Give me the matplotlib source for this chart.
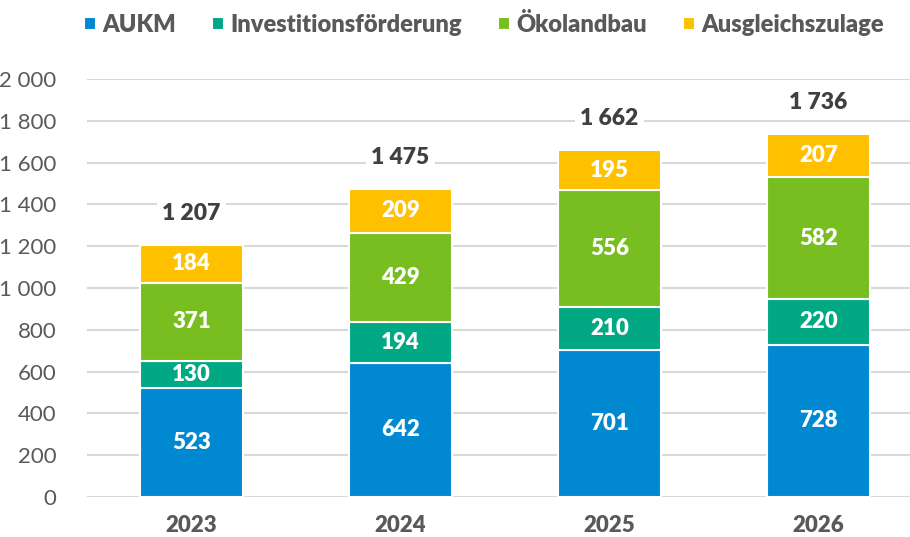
import matplotlib.pyplot as plt
from matplotlib.ticker import FuncFormatter
import numpy as np

plt.rcParams['font.family'] = ['Lato', 'DejaVu Sans']

# Daten
jahre = ['2023', '2024', '2025', '2026']
aukm = [523, 642, 701, 728]
invest = [130, 194, 210, 220]
oeko = [371, 429, 556, 582]
ausgleich = [184, 209, 195, 207]
summe = [1207, 1475, 1662, 1736]

serien = [('AUKM', aukm, '#0088D1'),
          ('Investitionsförderung', invest, '#00A884'),
          ('Ökolandbau', oeko, '#78BE20'),
          ('Ausgleichszulage', ausgleich, '#FFC000')]

fig = plt.figure(figsize=(9.1, 5.37), dpi=100)
ax = fig.add_axes([87/910, 40/537, 823/910, 418/537])

x = np.arange(len(jahre))
unten = np.zeros(len(jahre))
for name, werte, farbe in serien:
    bars = ax.bar(x, werte, 0.49, bottom=unten, color=farbe, edgecolor='white',
                  linewidth=1.5, label=name, zorder=3)
    for xi, b, w in zip(x, unten, werte):
        ax.text(xi, b + w / 2, str(w), ha='center', va='center', color='white',
                fontsize=16, fontweight='heavy', zorder=4)
    unten = unten + np.array(werte)

for xi, s in zip(x, summe):
    ax.text(xi, s + 150, f'{s:,}'.replace(',', ' '), ha='center', va='center',
            color='#404040', fontsize=16.5, fontweight='heavy', zorder=4,
            bbox=dict(facecolor='white', edgecolor='none', pad=4))

ax.set_ylim(0, 2000)
ax.set_xlim(-0.5, 3.438)
ax.set_yticks(range(0, 2001, 200))
ax.yaxis.set_major_formatter(FuncFormatter(lambda v, p: f'{int(v):,}'.replace(',', ' ')))
ax.grid(axis='y', color='#D9D9D9', linewidth=1.5, zorder=0)
ax.set_xticks(x)
ax.set_xticklabels(jahre, fontweight='heavy')
ax.tick_params(axis='both', length=0, labelcolor='#595959', labelsize=16)
ax.tick_params(axis='x', pad=13)
ax.tick_params(axis='y', pad=22)
for sp in ax.spines.values():
    sp.set_visible(False)

leg = fig.legend(loc='center', bbox_to_anchor=(0.532, 0.955), ncol=4, frameon=False,
                 handlelength=0.5, handleheight=0.5, handletextpad=0.3,
                 columnspacing=1.5, prop={'size': 17, 'weight': 'heavy'})
for t in leg.get_texts():
    t.set_color('#595959')

fig.savefig('out.png', dpi=100)
